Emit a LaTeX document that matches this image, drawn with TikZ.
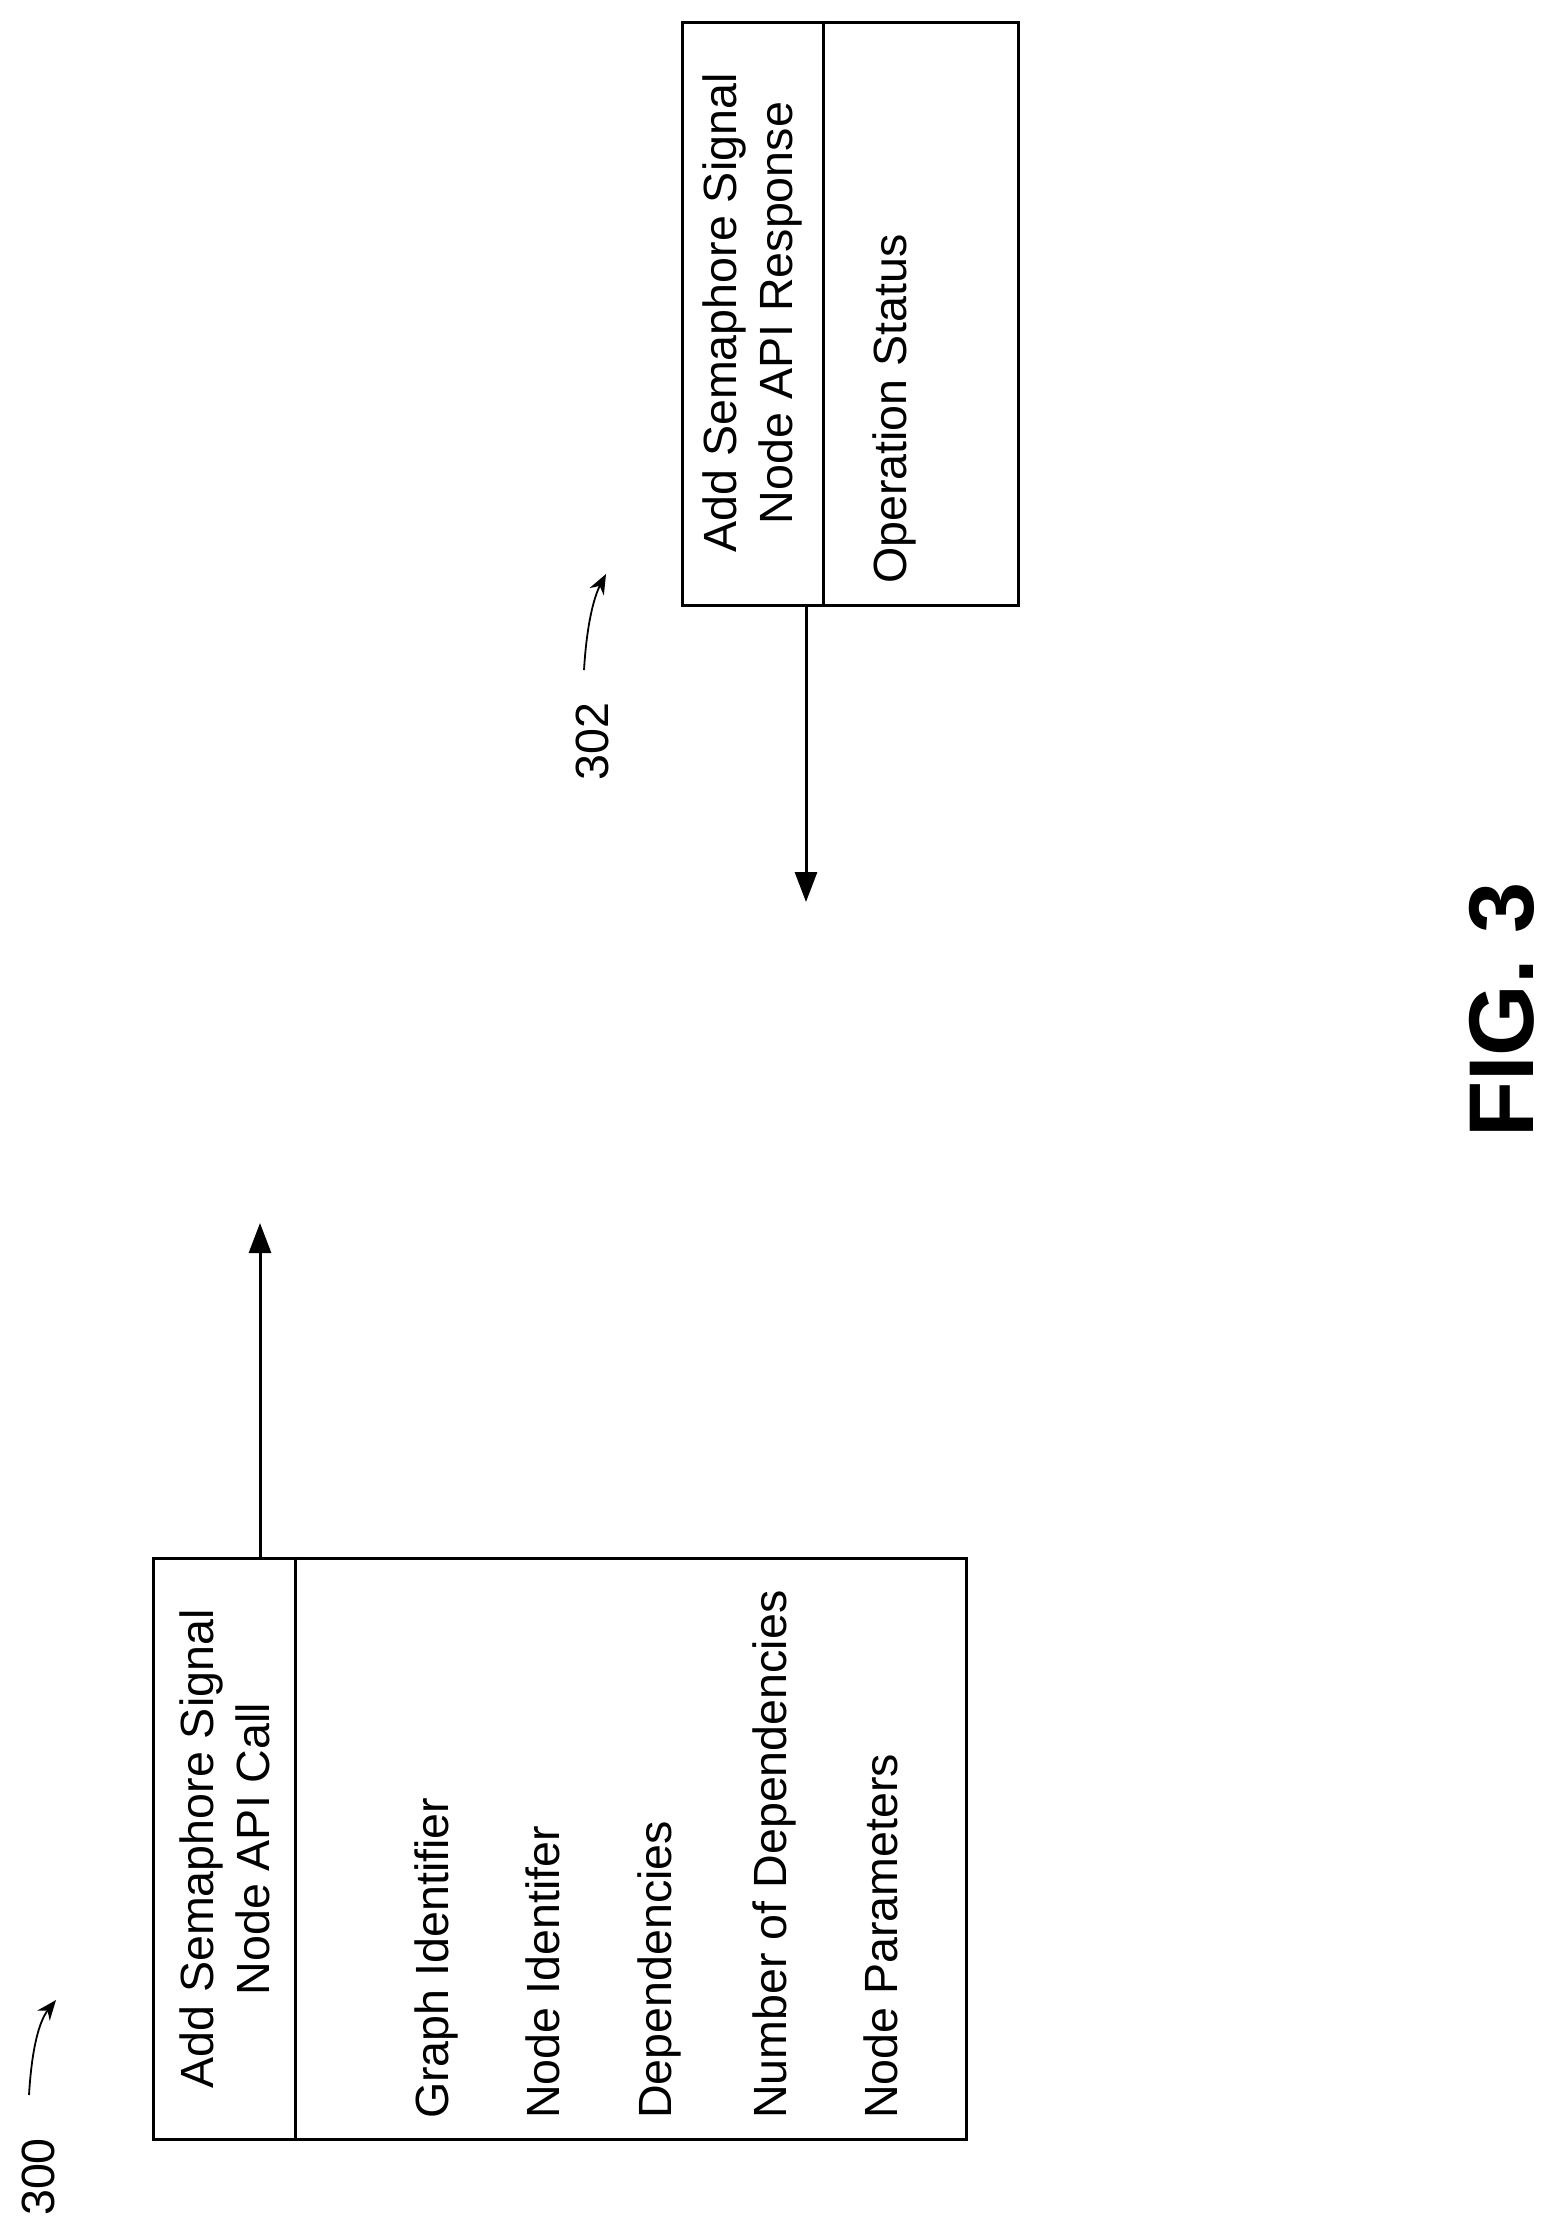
\documentclass[tikz,border=0pt]{standalone}
\usepackage{fontspec}
\setmainfont{Liberation Sans}
\usetikzlibrary{arrows.meta,calc}

\tikzset{
  apibox/.style={draw,line width=3pt,inner sep=0pt},
  hdrtext/.style={rotate=90,align=center,font=\fontsize{46.6}{56}\selectfont},
  fieldtext/.style={rotate=90,anchor=base west,inner sep=0pt,font=\fontsize{46.6}{56}\selectfont},
  flow/.style={line width=3pt,-{Triangle[width=22pt,length=30pt]}},
  refarrow/.style={line width=1.8pt,-{Stealth[width=16pt,length=20pt]}}
}

\begin{document}
\begin{tikzpicture}[x=1pt,y=-1pt]
  \useasboundingbox (0,0) rectangle (1555,2230);
  % call block
  \node[apibox,minimum width=813pt,minimum height=581pt] (call) at (559.5,1848.5) {};
  \draw[line width=3pt] (call.north west -| 295,0) -- (call.south west -| 295,0);
  \node[hdrtext] (callhdr) at (225,1849) {Add Semaphore Signal\\Node API Call};
  \node[fieldtext] (graphid) at (448,2119) {Graph Identifier};
  \node[fieldtext] (nodeid) at (559,2119) {Node Identifer};
  \node[fieldtext] (deps) at (671,2119) {Dependencies};
  \node[fieldtext] (numdeps) at (786,2119) {Number of Dependencies};
  \node[fieldtext] (params) at (897,2119) {Node Parameters};
  % response block
  \node[apibox,minimum width=336pt,minimum height=583pt] (resp) at (850,313.5) {};
  \draw[line width=3pt] (resp.north west -| 823,0) -- (resp.south west -| 823,0);
  \node[hdrtext] (resphdr) at (752,313) {Add Semaphore Signal\\Node API Response};
  \node[fieldtext] (status) at (906,584) {Operation Status};
  % connectors
  \coordinate (callout) at (260,1223);
  \coordinate (respout) at (806,902);
  \draw[flow] (call.north -| callout) -- (callout);
  \draw[flow] (resp.south -| respout) -- (respout);
  % reference numerals
  \node[fieldtext] (ref300) at (54,2216) {300};
  \node[fieldtext] (ref302) at (608,781) {302};
  \coordinate (hook300) at (29,2095);
  \coordinate (hook302) at (584,670);
  \draw[refarrow] (hook300) .. controls (32,2045) and (40,2020) .. (56,2000);
  \draw[refarrow] (hook302) .. controls (587,620) and (595,595) .. (606,574);
  \node[fieldtext,font=\fontsize{92}{100}\selectfont\bfseries] (figlabel) at (1533,1138) {FIG. 3};
\end{tikzpicture}
\end{document}
